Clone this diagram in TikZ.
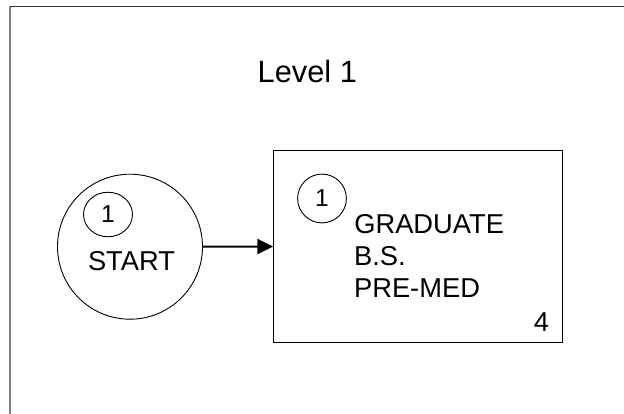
\documentclass[tikz,border=0pt]{standalone}
\usepackage{fontspec}
\setmainfont{Liberation Sans}
\usetikzlibrary{arrows.meta,shapes.geometric}
\tikzset{
  txt/.style={inner sep=0pt, outer sep=0pt, font=\fontsize{27.3}{32}\selectfont},
  digit/.style={draw, line width=0.9pt, inner sep=0pt, outer sep=0pt, font=\fontsize{24.5}{28}\selectfont},
  thinline/.style={draw, line width=0.9pt},
  flow/.style={line width=2pt, -{Triangle[length=16pt,width=15pt]}}
}
\begin{document}
\begin{tikzpicture}[x=1pt,y=-1pt]
\useasboundingbox (0,0) rectangle (624,414);
\fill[white] (0,0) rectangle (624,414);
% frame
\coordinate (ftl) at (9.8,6.5);
\coordinate (ftr) at (624,6.5);
\coordinate (fbl) at (9.8,414);
\draw[line width=2pt, color={rgb,255:red,128;green,128;blue,128}] (ftl) -- (fbl);
\draw[line width=1.2pt, color={rgb,255:red,50;green,50;blue,50}] (ftl) -- (ftr);
% title
\node[txt, font=\fontsize{30.8}{34}\selectfont, anchor=base] (title) at (307.3,82.3) {Level 1};
% start circle
\node[thinline, circle, minimum size=145pt, inner sep=0pt, outer sep=0pt] (start) at (130,246.7) {};
\node[digit, ellipse, minimum width=49pt, minimum height=44.5pt] (startnum) at (108,214.5) {1};
\node[txt, anchor=base] (starttext) at (131.5,270) {START};
% box
\node[thinline, rectangle, minimum width=289pt, minimum height=191.6pt, inner sep=0pt, outer sep=0pt] (box) at (417.8,246.5) {};
\node[digit, circle, minimum size=48.8pt] (boxnum) at (322,198.5) {1};
\node[txt, anchor=base west] (l1) at (354.3,233.3) {GRADUATE};
\node[txt, anchor=base west] (l2) at (354.1,265.3) {B.S.};
\node[txt, anchor=base west] (l3) at (354.1,297.7) {PRE-MED};
\node[txt, anchor=base] (four) at (541.5,331.7) {4};
% arrow
\draw[flow] (start.east) -- (box.west);
\end{tikzpicture}
\end{document}
